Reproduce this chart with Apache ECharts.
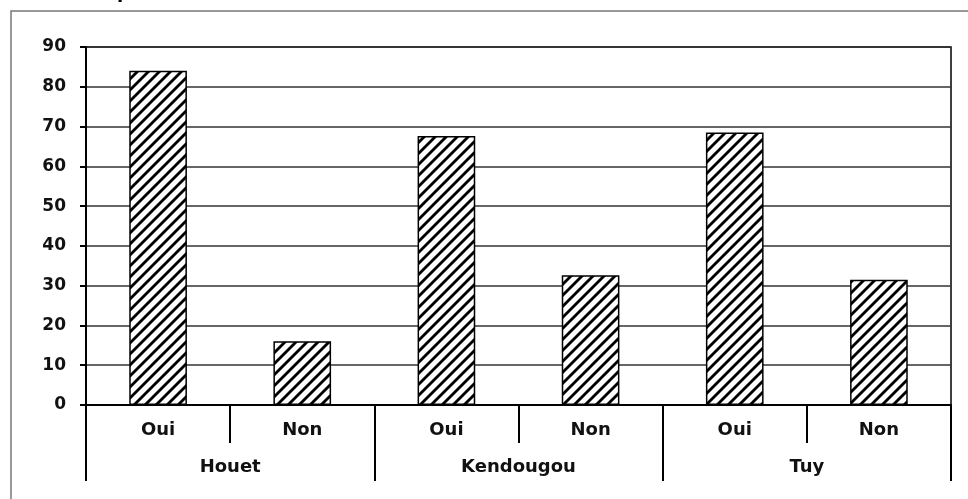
<!DOCTYPE html>
<html>
<head>
<meta charset="utf-8">
<script src="https://cdn.jsdelivr.net/npm/echarts@6/dist/echarts.min.js"></script>
<style>html,body{margin:0;padding:0;background:#fff}#c{width:968px;height:499px}</style>
</head>
<body>
<div id="c"></div>
<script>
const titleText = "possession d'un acte de naissance";
const regions = ["Houet", "Kendougou", "Tuy"];
const answers = ["Oui", "Non", "Oui", "Non", "Oui", "Non"];
const values = [84, 16, 67.6, 32.6, 68.5, 31.5];
const yTicks = [0, 10, 20, 30, 40, 50, 60, 70, 80, 90];

// hatch pattern tile
const T = 11;
const tile = document.createElement('canvas');
tile.width = T; tile.height = T;
const g = tile.getContext('2d');
g.fillStyle = '#fff'; g.fillRect(0, 0, T, T);
g.strokeStyle = '#000'; g.lineWidth = 2.8;
[-T, 0, T].forEach((dx) => {
  g.beginPath(); g.moveTo(dx - 1, T + 1); g.lineTo(dx + T + 1, -1); g.stroke();
});

const chart = echarts.init(document.getElementById('c'), null, { renderer: 'canvas' });
const font = 'DejaVu Sans';
chart.setOption({
  animation: false,
  backgroundColor: '#fff',
  graphic: [
    { type: 'rect', shape: { x: 11, y: 11, width: 980, height: 520 }, style: { fill: 'none', stroke: '#777', lineWidth: 1.5 }, z: 0 },
    { type: 'text', x: 117, y: 2, style: { text: titleText, font: 'bold 18px "DejaVu Sans"', fill: '#000', verticalAlign: 'bottom', lineHeight: 18 } }
  ],
  grid: { left: 86, top: 47, right: 17, bottom: 94, show: true, borderColor: '#000', borderWidth: 1.5, backgroundColor: 'transparent' },
  xAxis: [
    {
      type: 'category', data: answers, position: 'bottom',
      axisLine: { show: true, lineStyle: { color: '#000', width: 2 } },
      axisTick: { show: true, length: 38, interval: 0, lineStyle: { color: '#000', width: 2 } },
      axisLabel: { margin: 16, interval: 0, color: '#111', fontFamily: font, fontWeight: 'bold', fontSize: 18 }
    },
    {
      type: 'category', data: regions, position: 'bottom',
      axisLine: { show: false },
      axisTick: { show: true, length: 76, interval: 0, lineStyle: { color: '#000', width: 2 } },
      axisLabel: { margin: 53, interval: 0, color: '#111', fontFamily: font, fontWeight: 'bold', fontSize: 18 }
    }
  ],
  yAxis: {
    type: 'value', min: yTicks[0], max: yTicks[yTicks.length - 1], interval: 10,
    axisLine: { show: true, lineStyle: { color: '#000', width: 2 } },
    axisTick: { show: true, length: 6, lineStyle: { color: '#000', width: 2 } },
    axisLabel: { margin: 20, color: '#111', fontFamily: font, fontWeight: 'bold', fontSize: 17 },
    splitLine: { show: true, lineStyle: { color: '#333', width: 1.5 } }
  },
  series: [{
    type: 'bar', xAxisIndex: 0, data: values, barWidth: '40%',
    itemStyle: { color: { image: tile, repeat: 'repeat' }, borderColor: '#000', borderWidth: 1.5 }
  }]
});
</script>
</body>
</html>
